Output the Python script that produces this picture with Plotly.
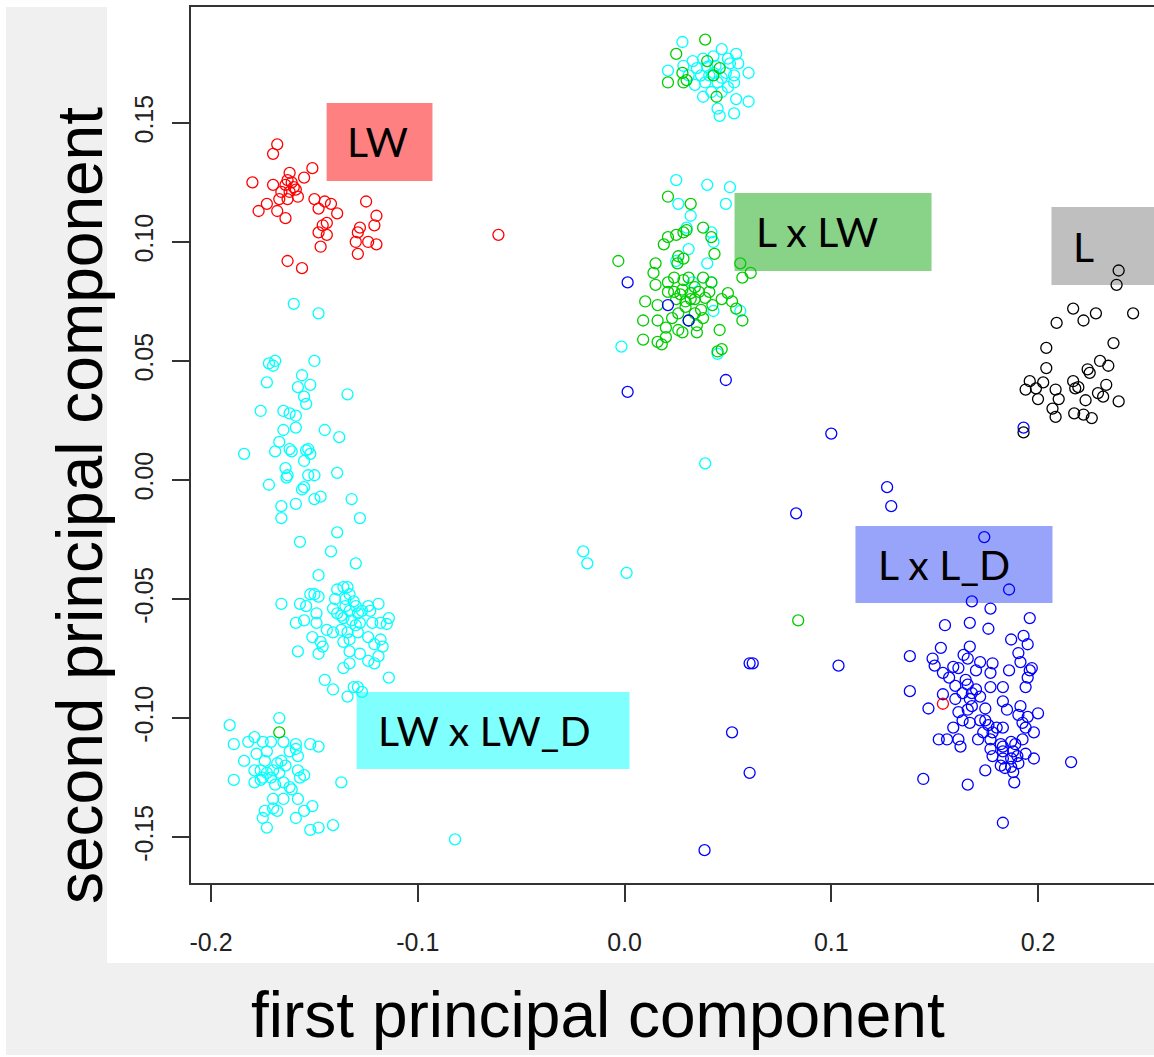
import plotly.graph_objects as go

# ---------------- data ----------------
# LW (red)
lw_x = [-0.168, -0.170, -0.180, -0.151, -0.155, -0.162, -0.163, -0.170, -0.160, -0.162,
        -0.158, -0.163, -0.167, -0.173, -0.177, -0.168, -0.164, -0.150, -0.148, -0.145,
        -0.142, -0.139, -0.144, -0.146, -0.148, -0.144, -0.147, -0.125, -0.120, -0.121,
        -0.128, -0.129, -0.130, -0.124, -0.120, -0.129, -0.163, -0.156, -0.061, 0.154,
        -0.164, -0.161, -0.159, -0.166]
lw_y = [0.141, 0.137, 0.125, 0.131, 0.127, 0.129, 0.126, 0.124, 0.123, 0.121,
        0.119, 0.118, 0.118, 0.116, 0.113, 0.113, 0.110, 0.118, 0.114, 0.117,
        0.116, 0.112, 0.108, 0.107, 0.104, 0.103, 0.098, 0.117, 0.111, 0.107,
        0.106, 0.104, 0.100, 0.100, 0.099, 0.095, 0.092, 0.089, 0.103, -0.094,
        0.124, 0.125, 0.122, 0.121]

# LW x LW_D (cyan)
lwd_x = [-0.160, -0.148, -0.172, -0.169, -0.170, -0.150, -0.156, -0.173, -0.158, -0.152,
         -0.155, -0.154, -0.134, -0.176, -0.165, -0.162, -0.159, -0.165, -0.159, -0.145,
         -0.138, -0.184, -0.167, -0.169, -0.162, -0.161, -0.153, -0.152, -0.154, -0.155,
         -0.164, -0.163, -0.1635, -0.153, -0.150, -0.139, -0.172, -0.155, -0.156, -0.150,
         -0.147, -0.132, -0.166, -0.159, -0.128, -0.166, -0.139, -0.157, -0.142, -0.130,
         -0.148,
         -0.166, -0.150, -0.148, -0.136, -0.134, -0.139, -0.133, -0.140, -0.131, -0.157,
         -0.154, -0.141, -0.139, -0.135, -0.133, -0.130, -0.129, -0.127, -0.124, -0.119,
         -0.123, -0.149, -0.159, -0.155, -0.149, -0.136, -0.132, -0.128, -0.122, -0.118,
         -0.114, -0.115, -0.151, -0.144, -0.141, -0.137, -0.134, -0.129, -0.124, -0.118,
         -0.117, -0.121, -0.147, -0.146, -0.148, -0.158, -0.133, -0.128, -0.136, -0.119,
         -0.124, -0.121, -0.133, -0.136, -0.145, -0.141, -0.114, -0.131, -0.129, -0.127,
         -0.134, -0.135, -0.137, -0.130, -0.133, -0.152,
         -0.191, -0.167, -0.189, -0.182, -0.179, -0.175, -0.171, -0.165, -0.159, -0.152,
         -0.148, -0.184, -0.178, -0.173, -0.168, -0.166, -0.162, -0.158, -0.159, -0.179,
         -0.176, -0.173, -0.170, -0.175, -0.171, -0.167, -0.165, -0.189, -0.179, -0.176,
         -0.158, -0.157, -0.155, -0.162, -0.161, -0.158, -0.165, -0.137, -0.170, -0.170,
         -0.168, -0.174, -0.175, -0.173, -0.155, -0.151, -0.159, -0.148, -0.152, -0.141,
         -0.082, -0.174, -0.164, -0.169,
         -0.0015, 0.039, -0.020, -0.018, 0.001,
         0.025, 0.040, 0.051, 0.026, 0.049, 0.032, 0.030, 0.042, 0.043, 0.031,
         0.040, 0.025, 0.033, 0.042, 0.056, 0.043, 0.045,
         0.028, 0.047, 0.054, 0.0285, 0.033, 0.038, 0.043, 0.050, 0.051, 0.055,
         0.021, 0.035, 0.040, 0.037, 0.043, 0.049, 0.053, 0.060, 0.034, 0.039,
         0.045, 0.053, 0.038, 0.042, 0.047, 0.054, 0.060, 0.045, 0.053, 0.046,
         0.031, 0.044, 0.047, 0.041, 0.050]
lwd_y = [0.074, 0.070, 0.049, 0.050, 0.048, 0.050, 0.044, 0.041, 0.039, 0.040,
         0.035, 0.032, 0.036, 0.029, 0.029, 0.028, 0.027, 0.021, 0.022, 0.021,
         0.018, 0.011, 0.016, 0.012, 0.013, 0.012, 0.013, 0.011, 0.0125, 0.008,
         0.005, 0.002, 0.001, 0.002, 0.002, 0.003, -0.002, -0.003, -0.004, -0.008,
         -0.007, -0.008, -0.011, -0.010, -0.016, -0.016, -0.022, -0.026, -0.030, -0.035,
         -0.040,
         -0.052, -0.048, -0.049, -0.045, -0.045, -0.046, -0.048, -0.050, -0.051, -0.052,
         -0.053, -0.054, -0.056, -0.053, -0.055, -0.053, -0.056, -0.055, -0.053, -0.052,
         -0.055, -0.056, -0.060, -0.059, -0.060, -0.058, -0.059, -0.060, -0.060, -0.060,
         -0.058, -0.0605, -0.066, -0.063, -0.064, -0.063, -0.064, -0.064, -0.066, -0.067,
         -0.070, -0.069, -0.068, -0.070, -0.073, -0.072, -0.072, -0.073, -0.068, -0.074,
         -0.076, -0.077, -0.077, -0.079, -0.084, -0.088, -0.083, -0.087, -0.087, -0.089,
         -0.091, -0.050, -0.057, -0.061, -0.067, -0.048,
         -0.103, -0.100, -0.111, -0.110, -0.108, -0.110, -0.110, -0.110, -0.111, -0.111,
         -0.112, -0.118, -0.115, -0.114, -0.119, -0.118, -0.114, -0.116, -0.113, -0.122,
         -0.122, -0.123, -0.122, -0.125, -0.125, -0.123, -0.127, -0.126, -0.127, -0.126,
         -0.122, -0.125, -0.124, -0.129, -0.130, -0.134, -0.134, -0.127, -0.134, -0.138,
         -0.139, -0.139, -0.142, -0.146, -0.139, -0.137, -0.142, -0.146, -0.147, -0.145,
         -0.151, -0.118, -0.120, -0.128,
         0.056, 0.007, -0.030, -0.035, -0.039,
         0.126, 0.124, 0.123, 0.116, 0.116, 0.111, 0.106, 0.104, 0.100, 0.097,
         0.091, 0.092, 0.083, 0.083, 0.071, 0.071, 0.053,
         0.184, 0.181, 0.179, 0.174, 0.176, 0.177, 0.178, 0.177, 0.175, 0.175,
         0.172, 0.173, 0.1735, 0.170, 0.171, 0.171, 0.170, 0.171, 0.166, 0.167,
         0.167, 0.167, 0.161, 0.163, 0.163, 0.160, 0.159, 0.156, 0.154, 0.153,
         0.170, 0.174, 0.169, 0.170, 0.165]

# L x LW (green)
lxlw_x = [0.039, 0.025, 0.028, 0.021, 0.0285, 0.030, 0.040, 0.046, 0.043, 0.0445,
          0.021, 0.032, -0.003, 0.019, 0.021, 0.025, 0.0285, 0.030, 0.038, 0.042,
          0.0435, 0.026, 0.0285, 0.0256, 0.015, 0.014, 0.056, 0.061, 0.057, 0.015,
          0.021, 0.024, 0.0285, 0.031, 0.038, 0.042, 0.021, 0.024, 0.028, 0.032,
          0.036, 0.041, 0.050, 0.010, 0.016, 0.025, 0.0295, 0.034, 0.039, 0.0425,
          0.047, 0.052, 0.054, 0.009, 0.016, 0.023, 0.026, 0.034, 0.038, 0.0295,
          0.020, 0.026, 0.035, 0.009, 0.016, 0.020, 0.018, 0.028, 0.035, 0.046,
          0.057, 0.047, 0.045, 0.032, 0.027, 0.037, 0.031, 0.034,
          0.084, -0.167]
lxlw_y = [0.185, 0.179, 0.171, 0.167, 0.167, 0.168, 0.176, 0.173, 0.170, 0.161,
          0.119, 0.116, 0.092, 0.099, 0.102, 0.103, 0.104, 0.105, 0.106, 0.102,
          0.095, 0.094, 0.093, 0.091, 0.091, 0.087, 0.091, 0.087, 0.085, 0.082,
          0.083, 0.085, 0.084, 0.085, 0.085, 0.083, 0.079, 0.079, 0.080, 0.0785,
          0.079, 0.079, 0.0785, 0.075, 0.0735, 0.076, 0.075, 0.076, 0.0765, 0.0735,
          0.076, 0.075, 0.072, 0.067, 0.067, 0.068, 0.070, 0.070, 0.068, 0.0727,
          0.064, 0.063, 0.065, 0.059, 0.058, 0.060, 0.057, 0.062, 0.062, 0.063,
          0.067, 0.055, 0.054, 0.076, 0.078, 0.0715, 0.067, 0.081,
          -0.059, -0.106]

# L x L_D (blue)
lxld_x = [0.0015, 0.021, 0.031, 0.0015, 0.049, 0.193, 0.100, 0.127, 0.129, 0.083,
          0.0605, 0.062, 0.1035, 0.052, 0.0605, 0.0387,
          0.174, 0.186, 0.168, 0.177, 0.196, 0.155, 0.167, 0.176, 0.187, 0.193,
          0.195, 0.153, 0.167, 0.138, 0.149, 0.150, 0.164, 0.166, 0.172, 0.178,
          0.1905, 0.1915, 0.196, 0.197, 0.195, 0.194, 0.154, 0.159, 0.1615, 0.170,
          0.177, 0.186, 0.138, 0.157, 0.160, 0.166, 0.168, 0.177, 0.183, 0.1635,
          0.167, 0.172, 0.147, 0.154, 0.160, 0.1745, 0.183, 0.166, 0.168, 0.1615,
          0.185, 0.1915, 0.1905, 0.195, 0.200, 0.159, 0.1635, 0.167, 0.172, 0.176,
          0.180, 0.183, 0.178, 0.1735, 0.1925, 0.194, 0.198, 0.152, 0.156, 0.1615,
          0.1625, 0.171, 0.177, 0.183, 0.187, 0.189, 0.1925, 0.183, 0.188, 0.178,
          0.183, 0.190, 0.194, 0.198, 0.1905, 0.182, 0.184, 0.187, 0.1745, 0.188,
          0.1445, 0.166, 0.1885, 0.216, 0.183, 0.170, 0.1745, 0.182, 0.165, 0.177,
          0.187]
lxld_y = [0.083, 0.0735, 0.067, 0.037, 0.042, 0.022, 0.0195, -0.003, -0.011, -0.014,
          -0.077, -0.077, -0.078, -0.106, -0.123, -0.1555,
          -0.024, -0.046, -0.051, -0.054, -0.058, -0.061, -0.060, -0.0625, -0.067, -0.0655,
          -0.069, -0.0705, -0.070, -0.074, -0.075, -0.078, -0.0735, -0.075, -0.0765, -0.077,
          -0.0727, -0.0765, -0.080, -0.079, -0.083, -0.087, -0.081, -0.0785, -0.079, -0.080,
          -0.081, -0.080, -0.0887, -0.083, -0.0865, -0.086, -0.0895, -0.087, -0.087, -0.0895,
          -0.092, -0.091, -0.096, -0.090, -0.092, -0.096, -0.093, -0.0965, -0.095, -0.0975,
          -0.0965, -0.095, -0.0987, -0.0995, -0.098, -0.104, -0.101, -0.102, -0.101, -0.103,
          -0.104, -0.104, -0.106, -0.106, -0.102, -0.104, -0.106, -0.109, -0.109, -0.109,
          -0.112, -0.109, -0.109, -0.112, -0.110, -0.111, -0.109, -0.114, -0.114, -0.116,
          -0.117, -0.116, -0.115, -0.117, -0.119, -0.120, -0.121, -0.1205, -0.122, -0.1227,
          -0.1256, -0.128, -0.127, -0.1185, -0.144, -0.088, -0.101, -0.111, -0.084, -0.113,
          -0.117]

# L (black)
l_x = [0.239, 0.238, 0.217, 0.228, 0.222, 0.246, 0.209, 0.2365, 0.204, 0.204,
       0.230, 0.234, 0.224, 0.225, 0.196, 0.194, 0.199, 0.2025, 0.2085, 0.217,
       0.218, 0.2195, 0.200, 0.210, 0.233, 0.229, 0.2315, 0.223, 0.239, 0.207,
       0.2085, 0.2175, 0.222, 0.226, 0.193]
l_y = [0.088, 0.082, 0.072, 0.070, 0.067, 0.070, 0.066, 0.0575, 0.0555, 0.047,
       0.050, 0.048, 0.0465, 0.045, 0.0415, 0.038, 0.0385, 0.041, 0.038, 0.0415,
       0.0385, 0.039, 0.034, 0.034, 0.040, 0.0365, 0.035, 0.0335, 0.033, 0.030,
       0.0265, 0.028, 0.0275, 0.026, 0.020]

x_ticks = [-0.2, -0.1, 0.0, 0.1, 0.2]
y_ticks = [-0.15, -0.10, -0.05, 0.00, 0.05, 0.10, 0.15]

# group labels: text, box corners (data units), fill colour
labels = [
    ("LW",        -0.1441, -0.0929, 0.1256, 0.1584, "#ff8080"),
    ("L x LW",     0.0532,  0.1485, 0.0878, 0.1206, "#88d388"),
    ("L",          0.2065,  0.2600, 0.0819, 0.1147, "#bfbfbf"),
    ("L x L_D",    0.1117,  0.2070, -0.0517, -0.0193, "#98a4fa"),
    ("LW x LW_D", -0.1296,  0.0024, -0.1214, -0.0891, "#80ffff"),
]
label_text_x = [-0.1352, 0.0624, 0.2160, 0.1214, -0.1204]

# ---------------- figure ----------------
fig = go.Figure()

series = [
    (lwd_x, lwd_y, "#00ffff"),
    (lxlw_x, lxlw_y, "#00cd00"),
    (lxld_x, lxld_y, "#0000ff"),
    (lw_x, lw_y, "#ff0000"),
    (l_x, l_y, "#000000"),
]
for xs, ys, col in series:
    fig.add_trace(go.Scatter(
        x=xs, y=ys, mode="markers",
        marker=dict(symbol="circle-open", size=11, color=col, line=dict(width=1.3, color=col)),
        showlegend=False, hoverinfo="skip"))

shapes = []
# grey window background strips (outside the plot area)
grey = "#f0f0f0"
shapes.append(dict(type="rect", xref="paper", yref="paper", x0=-0.1921, x1=-0.0872, y0=-0.1963, y1=1.0,
                   fillcolor=grey, line=dict(width=0), layer="below"))
shapes.append(dict(type="rect", xref="paper", yref="paper", x0=-0.1921, x1=1.0, y0=-0.1963, y1=-0.0913,
                   fillcolor=grey, line=dict(width=0), layer="below"))

annotations = []
for (txt, x0, x1, y0, y1, col), tx in zip(labels, label_text_x):
    shapes.append(dict(type="rect", xref="x", yref="y", x0=x0, x1=x1, y0=y0, y1=y1,
                       fillcolor=col, line=dict(width=0), layer="below"))
    annotations.append(dict(x=tx, y=(y0 + y1) / 2, xref="x", yref="y", text=txt, showarrow=False,
                            xanchor="left", yanchor="middle",
                            font=dict(family="Lato, Open Sans, sans-serif", size=41, color="#000000")))

# axis titles
annotations.append(dict(x=0.4226, y=-0.1507, xref="paper", yref="paper", text="first principal component",
                        showarrow=False, xanchor="center", yanchor="middle",
                        font=dict(family="Liberation Sans, Arial, sans-serif", size=64, color="#000000")))
annotations.append(dict(x=-0.1153, y=0.4315, xref="paper", yref="paper", text="second principal component",
                        showarrow=False, xanchor="center", yanchor="middle", textangle=-90,
                        font=dict(family="Liberation Sans, Arial, sans-serif", size=64, color="#000000")))

fig.update_layout(
    width=1154, height=1057,
    margin=dict(l=191, r=0, t=7, b=174, pad=0),
    paper_bgcolor="#ffffff", plot_bgcolor="#ffffff",
    shapes=shapes, annotations=annotations,
    xaxis=dict(range=[-0.2097, 0.2561], tickvals=x_ticks, ticktext=[f"{v:.1f}" for v in x_ticks],
               showgrid=False, zeroline=False, showline=True, mirror=True, linecolor="#333333", linewidth=1.5,
               ticks="outside", ticklen=17, tickwidth=1.5, tickcolor="#333333", ticklabelstandoff=19,
               tickfont=dict(family="Liberation Sans, Arial, sans-serif", size=25, color="#222222")),
    yaxis=dict(range=[-0.1693, 0.1987], tickvals=y_ticks, ticktext=[f"{v:.2f}" for v in y_ticks],
               showgrid=False, zeroline=False, showline=True, mirror=False, linecolor="#333333", linewidth=1.5,
               ticks="outside", ticklen=17, tickwidth=1.5, tickcolor="#333333", tickangle=-90,
               ticklabelstandoff=9,
               tickfont=dict(family="Liberation Sans, Arial, sans-serif", size=25, color="#222222")),
)

fig.write_html("out.html")
